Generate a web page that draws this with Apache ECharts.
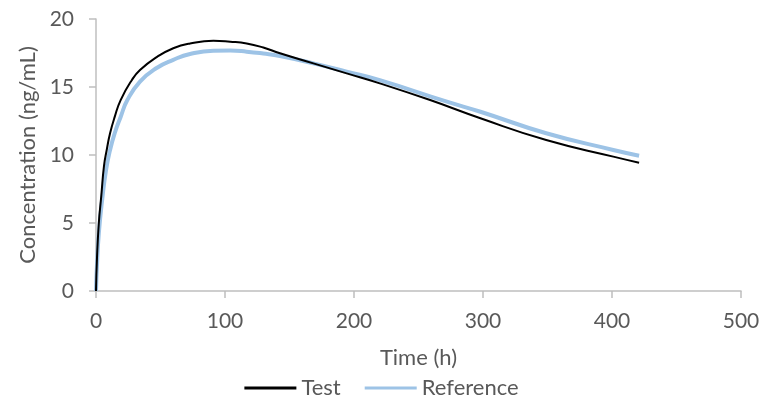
<!DOCTYPE html>
<html>
<head>
<meta charset="utf-8">
<script src="https://cdn.jsdelivr.net/npm/echarts@6/dist/echarts.min.js"></script>
<style>
  html, body { margin: 0; padding: 0; background: #fff; }
  #chart { width: 763px; height: 400px; }
</style>
</head>
<body>
<div id="chart"></div>
<script>
// values (time in h, concentration in ng/mL)
const testTime = [0, 0.8, 2.2, 4.1, 6.2, 8.3, 10.9, 14.5, 19.1, 27.7, 34.1, 47, 59.9, 72.9, 91, 104, 116.8, 129.7, 142.6, 168.5, 194.3, 220, 259, 298, 349, 401, 421]
const testConc = [0, 2.5, 5.0, 7.0, 9.2, 10.37, 11.6, 12.8, 14.04, 15.5, 16.25, 17.2, 17.85, 18.2, 18.4, 18.33, 18.2, 17.9, 17.48, 16.74, 16.0, 15.27, 14.04, 12.7, 11.1, 9.88, 9.43]

const refTime = [0, 0.8, 2.3, 4.9, 7.8, 10.9, 14.5, 19.1, 24.3, 34.1, 47, 59.9, 72.9, 91, 104, 116.8, 129.7, 142.6, 168.5, 194.3, 220, 272, 298, 349, 401, 421]
const refConc = [0, 2.0, 4.36, 6.8, 8.9, 10.37, 11.6, 12.8, 14.04, 15.4, 16.4, 17.0, 17.43, 17.67, 17.68, 17.6, 17.46, 17.28, 16.74, 16.13, 15.5, 13.92, 13.18, 11.6, 10.37, 9.95]

const xTicks = { min: 0, max: 500, interval: 100 }
const yTicks = { min: 0, max: 20, interval: 5 }

const gray = '#595959'
const axisGray = '#bfbfbf'
const font = 'Lato, "Liberation Sans", sans-serif'

const chart = echarts.init(document.getElementById('chart'))

const option = {
  animation: false,
  textStyle: { fontFamily: font },
  grid: { left: 96, right: 22, top: 19, bottom: 109 },
  legend: {
    bottom: -4,
    left: 'center',
    itemWidth: 52,
    itemHeight: 3,
    itemGap: 24,
    icon: 'rect',
    textStyle: { color: gray, fontSize: 22, fontFamily: font },
    data: ['Test', 'Reference']
  },
  xAxis: {
    type: 'value',
    min: xTicks.min,
    max: xTicks.max,
    interval: xTicks.interval,
    name: 'Time (h)',
    nameLocation: 'middle',
    nameGap: 56,
    nameTextStyle: { color: gray, fontSize: 22, fontFamily: font },
    axisLine: { show: true, lineStyle: { color: axisGray, width: 1.5 } },
    axisTick: { show: true, length: 7, lineStyle: { color: axisGray, width: 1.5 } },
    axisLabel: { color: gray, fontSize: 21, margin: 20, fontFamily: font },
    splitLine: { show: false }
  },
  yAxis: {
    type: 'value',
    min: yTicks.min,
    max: yTicks.max,
    interval: yTicks.interval,
    name: 'Concentration (ng/mL)',
    nameLocation: 'middle',
    nameGap: 57,
    nameTextStyle: { color: gray, fontSize: 22, fontFamily: font },
    axisLine: { show: true, lineStyle: { color: axisGray, width: 1.5 } },
    axisTick: { show: true, length: 7, lineStyle: { color: axisGray, width: 1.5 } },
    axisLabel: { color: gray, fontSize: 21, margin: 22, fontFamily: font },
    splitLine: { show: false }
  },
  series: [
    {
      name: 'Test',
      type: 'line',
      smooth: 0.5,
      showSymbol: false,
      data: testTime.map((t, i) => [t, testConc[i]]),
      lineStyle: { color: '#000000', width: 2 },
      itemStyle: { color: '#000000' },
      z: 3
    },
    {
      name: 'Reference',
      type: 'line',
      smooth: 0.5,
      showSymbol: false,
      data: refTime.map((t, i) => [t, refConc[i]]),
      lineStyle: { color: '#9dc3e6', width: 4 },
      itemStyle: { color: '#9dc3e6' },
      z: 2
    }
  ]
}

chart.setOption(option)
</script>
</body>
</html>
